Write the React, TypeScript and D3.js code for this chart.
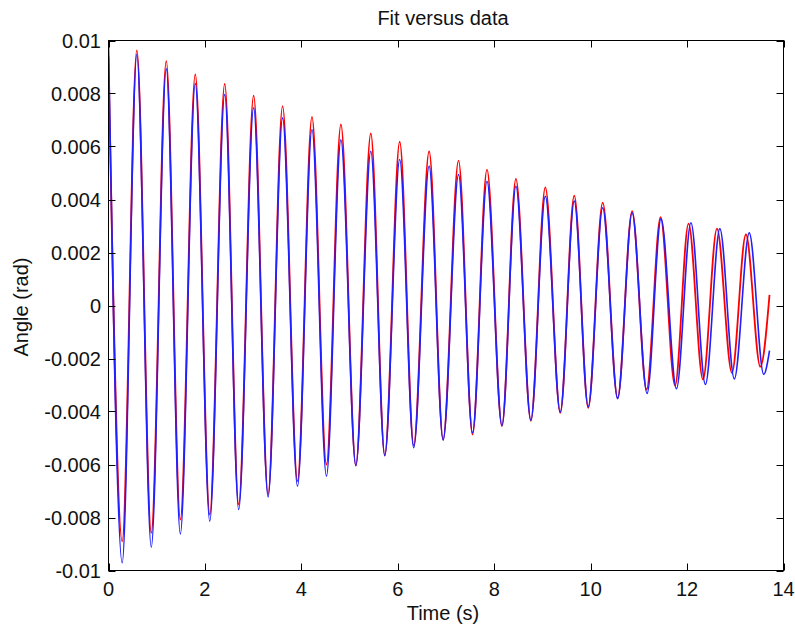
import React from "react";
import * as d3 from "d3";

// Data series: extrema (time s, angle rad)
const dataTimes = [0, 0.284, 0.588, 0.887, 1.198, 1.49, 1.8, 2.1, 2.41, 2.7, 3.01, 3.31, 3.61, 3.92, 4.22, 4.52, 4.82, 5.13, 5.44, 5.73, 6.04, 6.33, 6.65, 6.94, 7.26, 7.55, 7.85, 8.16, 8.45, 8.76, 9.06, 9.37, 9.66, 9.95, 10.25, 10.56, 10.86, 11.17, 11.46, 11.78, 12.08, 12.38, 12.68, 12.98, 13.29, 13.59, 13.71];
const dataValues = [0.0099, -0.00971, 0.00947, -0.00912, 0.00893, -0.00862, 0.00838, -0.00814, 0.00796, -0.0077, 0.00746, -0.00722, 0.00708, -0.00682, 0.00664, -0.00644, 0.00625, -0.00604, 0.00582, -0.00566, 0.00551, -0.00537, 0.00526, -0.00508, 0.00494, -0.0048, 0.00469, -0.00453, 0.0045, -0.00433, 0.00412, -0.00402, 0.00394, -0.00382, 0.00369, -0.00352, 0.0035, -0.00332, 0.00328, -0.00314, 0.00312, -0.00298, 0.0029, -0.00277, 0.00274, -0.0026, -0.0017];

const fitTimes = [0, 0.284, 0.588, 0.887, 1.198, 1.49, 1.8, 2.1, 2.41, 2.7, 3.01, 3.31, 3.61, 3.92, 4.22, 4.52, 4.82, 5.13, 5.44, 5.73, 6.04, 6.33, 6.65, 6.94, 7.26, 7.55, 7.85, 8.16, 8.45, 8.76, 9.06, 9.37, 9.66, 9.95, 10.25, 10.56, 10.86, 11.16, 11.45, 11.75, 12.03, 12.33, 12.62, 12.93, 13.22, 13.52, 13.71];
const fitValues = [0.0094, -0.0089, 0.00963, -0.00858, 0.00922, -0.00808, 0.00872, -0.00789, 0.00836, -0.00751, 0.00792, -0.00713, 0.00752, -0.00663, 0.00712, -0.006, 0.00683, -0.00604, 0.00649, -0.00566, 0.00618, -0.00528, 0.00582, -0.00506, 0.00547, -0.00487, 0.00513, -0.00455, 0.00478, -0.00435, 0.00446, -0.00405, 0.00415, -0.00386, 0.00388, -0.00349, 0.00356, -0.00317, 0.00333, -0.00302, 0.00309, -0.00279, 0.0029, -0.00254, 0.00268, -0.00231, 0.0004];

const xTicks = [0, 2, 4, 6, 8, 10, 12, 14];
const yTicks = [-0.01, -0.008, -0.006, -0.004, -0.002, 0, 0.002, 0.004, 0.006, 0.008, 0.01];
const yTickLabels = ["-0.01", "-0.008", "-0.006", "-0.004", "-0.002", "0", "0.002", "0.004", "0.006", "0.008", "0.01"];

const titleText = "Fit versus data";
const xLabelText = "Time (s)";
const yLabelText = "Angle (rad)";

const W = 795;
const H = 626;
const L = 108.5, R = 783.5, T = 40.5, B = 570.5;
const TICK = 7;
const FONT = "'Liberation Sans', Arial, Helvetica, sans-serif";

export default function App() {
  const x = d3.scaleLinear().domain([0, 14]).range([L, R]);
  const y = d3.scaleLinear().domain([-0.01, 0.01]).range([B, T]);
  const line = d3
    .line<[number, number]>()
    .x((d) => x(d[0]))
    .y((d) => y(d[1]))
    .curve(d3.curveMonotoneX);
  const dataPts = dataTimes.map((t, i) => [t, dataValues[i]] as [number, number]);
  const fitPts = fitTimes.map((t, i) => [t, fitValues[i]] as [number, number]);

  return (
    <svg
      width={W}
      height={H}
      style={{ position: "absolute", left: 0, top: 0, background: "#fff" }}
      fontFamily={FONT}
    >
      <defs>
        <clipPath id="plotclip">
          <rect x={L} y={T} width={R - L} height={B - T} />
        </clipPath>
      </defs>
      <rect x={0} y={0} width={W} height={H} fill="#fff" />
      <g clipPath="url(#plotclip)">
        <path d={line(fitPts) || ""} fill="none" stroke="#ff0000" strokeWidth={1.8} />
        <path d={line(dataPts) || ""} fill="none" stroke="#1f1fff" strokeWidth={1.6} />
      </g>
      <rect x={L} y={T} width={R - L} height={B - T} fill="none" stroke="#000" strokeWidth={1} />
      {xTicks.map((t) => (
        <g key={"x" + t}>
          <line x1={Math.round(x(t)) + 0.5} x2={Math.round(x(t)) + 0.5} y1={B} y2={B - TICK} stroke="#000" />
          <line x1={Math.round(x(t)) + 0.5} x2={Math.round(x(t)) + 0.5} y1={T} y2={T + TICK} stroke="#000" />
          <text x={x(t)} y={596} textAnchor="middle" fontSize={20} fill="#111">
            {String(t)}
          </text>
        </g>
      ))}
      {yTicks.map((v, i) => (
        <g key={"y" + i}>
          <line x1={L} x2={L + TICK} y1={Math.round(y(v)) + 0.5} y2={Math.round(y(v)) + 0.5} stroke="#000" />
          <line x1={R} x2={R - TICK} y1={Math.round(y(v)) + 0.5} y2={Math.round(y(v)) + 0.5} stroke="#000" />
          <text x={101} y={y(v) + 7} textAnchor="end" fontSize={20} fill="#111">
            {yTickLabels[i]}
          </text>
        </g>
      ))}
      <text x={443} y={25} textAnchor="middle" fontSize={20} fill="#111">
        {titleText}
      </text>
      <text x={443} y={620} textAnchor="middle" fontSize={20} fill="#111">
        {xLabelText}
      </text>
      <text
        transform={`translate(28,307) rotate(-90)`}
        textAnchor="middle"
        fontSize={20}
        fill="#111"
      >
        {yLabelText}
      </text>
    </svg>
  );
}
